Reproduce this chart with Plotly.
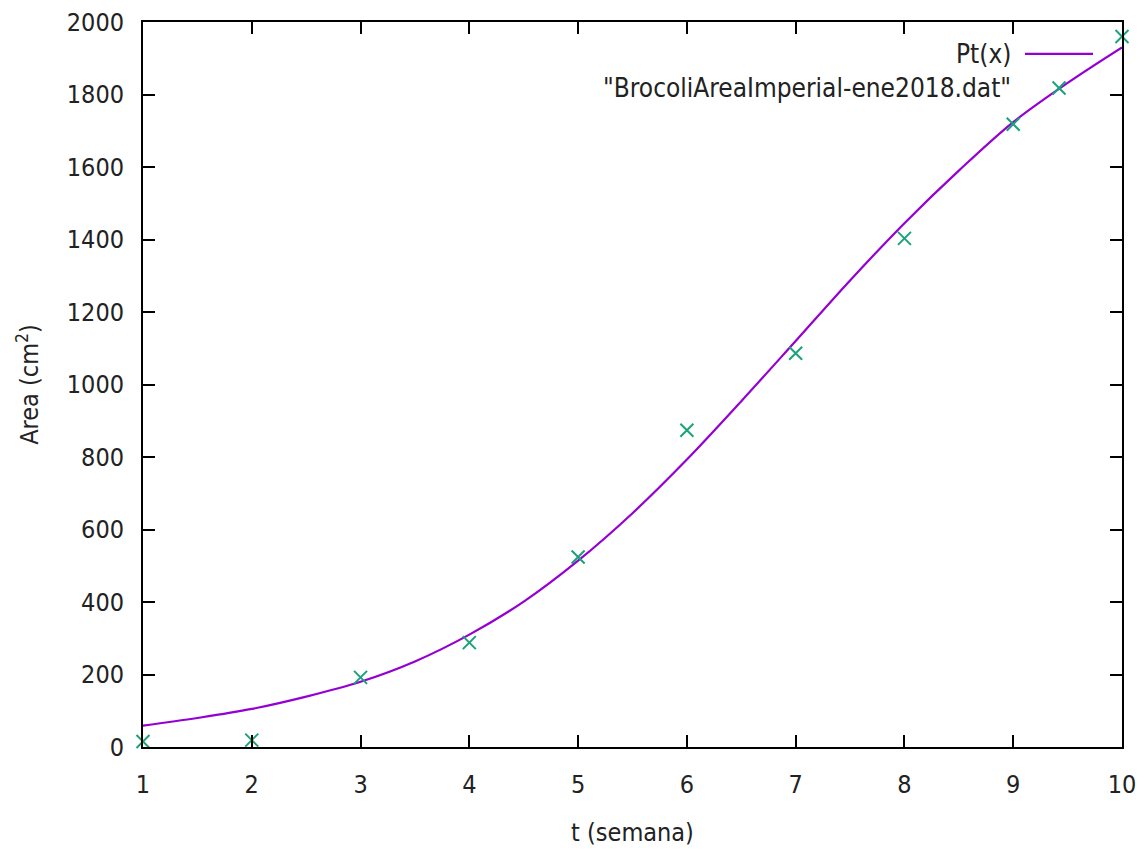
import plotly.graph_objects as go

# Data
weeks = [1, 2, 3, 4, 5, 6, 7, 8, 9, 10]
area = [15, 19, 192, 288, 524, 874, 1086, 1403, 1718, 1960]

# Pt(x) curve samples
curve_t = [1, 1.5, 2, 2.5, 3, 3.5, 4, 4.5, 5, 5.5, 6, 6.5, 7, 7.5, 8, 8.5, 9, 9.5, 10]
curve_y = [59, 80, 105, 139, 180, 236, 310, 401, 514, 645, 793, 954, 1120, 1287, 1445, 1590, 1724, 1832, 1930]

x_ticks = [1, 2, 3, 4, 5, 6, 7, 8, 9, 10]
y_ticks = [0, 200, 400, 600, 800, 1000, 1200, 1400, 1600, 1800, 2000]

LINE_COLOR = "#9400d3"
PT_COLOR = "#1aa37a"
FONT = "DejaVu Sans Condensed, DejaVu Sans, sans-serif"

fig = go.Figure()
fig.add_trace(go.Scatter(x=curve_t, y=curve_y, mode="lines", line=dict(color=LINE_COLOR, width=2.2, shape="spline"),
                         showlegend=False, name="Pt(x)"))
fig.add_trace(go.Scatter(x=weeks, y=area, mode="markers",
                         marker=dict(symbol="x-thin", size=13, line=dict(color=PT_COLOR, width=2)),
                         showlegend=False, cliponaxis=False, name="BrocoliAreaImperial-ene2018.dat"))

axis_common = dict(showgrid=False, zeroline=False, showline=True, linecolor="black", linewidth=2,
                   mirror="ticks", ticks="inside", ticklen=12, tickwidth=2, tickcolor="black",
                   ticklabeloverflow="allow", automargin=False,
                   tickfont=dict(family=FONT, size=25, color="#222"))

fig.update_xaxes(range=[1, 10], tickvals=x_ticks, ticktext=[str(v) for v in x_ticks],
                 title=dict(text="t (semana)", font=dict(family=FONT, size=25, color="#222"), standoff=25),
                 ticklabelstandoff=14, **axis_common)
fig.update_yaxes(range=[0, 2000], tickvals=y_ticks, ticktext=[str(v) for v in y_ticks],
                 title=dict(text="Area (cm<sup>2</sup>)", font=dict(family=FONT, size=25, color="#222"), standoff=21),
                 ticklabelstandoff=12, **axis_common)

# gnuplot-style key: text on the left, sample on the right
leg_font = dict(family=FONT, size=26, color="#222")
fig.add_annotation(xref="paper", yref="paper", x=0.8886, y=0.9559, text="Pt(x)", showarrow=False,
                   xanchor="right", yanchor="middle", font=leg_font)
fig.add_annotation(xref="paper", yref="paper", x=0.8886, y=0.909, text='"BrocoliAreaImperial-ene2018.dat"',
                   showarrow=False, xanchor="right", yanchor="middle", font=leg_font)
fig.add_shape(type="line", xref="paper", yref="paper", x0=0.9009, x1=0.9704, y0=0.9559, y1=0.9559,
              line=dict(color=LINE_COLOR, width=2.2))
cx, cy, dx, dy = 0.9357, 0.909, 0.0066, 0.009
fig.add_shape(type="line", xref="paper", yref="paper", x0=cx - dx, x1=cx + dx, y0=cy - dy, y1=cy + dy,
              line=dict(color=PT_COLOR, width=2))
fig.add_shape(type="line", xref="paper", yref="paper", x0=cx - dx, x1=cx + dx, y0=cy + dy, y1=cy - dy,
              line=dict(color=PT_COLOR, width=2))

# page body adds an 8px margin; compensate so the plot frame sits where the reference has it
fig.update_layout(width=1138, height=843, margin=dict(l=135, r=24, t=14, b=104, autoexpand=False),
                  plot_bgcolor="white", paper_bgcolor="white", showlegend=False)

fig.write_html("out.html")
